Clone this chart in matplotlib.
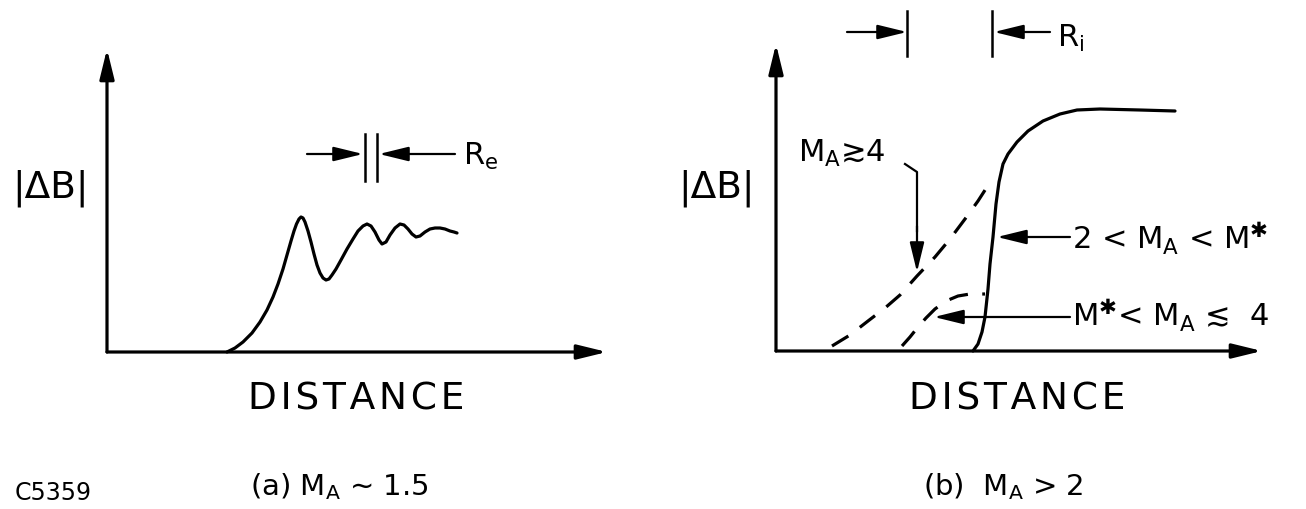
import matplotlib
matplotlib.use("Agg")
import matplotlib.pyplot as plt

plt.rcParams['font.family'] = ['DejaVu Sans']
plt.rcParams['mathtext.default'] = 'regular'

# panel (a): |dB| vs distance, M_A ~ 1.5 (units: px from the axes corner)
a_dist = [120, 128, 136, 145, 153, 160, 166, 171, 176, 180, 184, 187, 189.5, 192, 194, 196,
          198, 201, 204, 207, 210, 213, 216, 219, 222, 225, 229, 234, 240, 246, 251, 256,
          260, 264, 268, 272, 275, 279, 283, 288, 293, 297, 301, 305, 309, 313, 318, 323,
          328, 333, 338, 343, 347, 350]
a_db = [0, 4, 10, 19, 30, 42, 55, 68, 83, 97, 111, 121, 128, 133, 135, 134,
        130, 121, 110, 98, 87, 79, 74, 72, 73, 77, 83, 92, 103, 113, 121, 126,
        128, 126, 120, 112, 108, 110, 117, 124, 128, 127, 123, 118, 115, 116, 120, 123,
        124, 124, 123, 121, 120, 119]

# panel (b): M_A > 2
b_solid_dist = [197, 202, 206, 209, 212, 214, 217, 220, 223, 227, 232, 241, 252, 267, 284, 301, 324, 364, 399]
b_solid_db = [0, 7, 19, 34, 62, 87, 114, 147, 169, 187, 197, 209, 220, 230, 237, 241, 242, 241, 240]
b_dash4_dist = [56, 74, 92, 109, 124, 141, 159, 174, 189, 202, 211]
b_dash4_db = [5, 16, 30, 43, 56, 75, 94, 112, 132, 150, 164]
b_dashm_dist = [126, 134, 142, 150, 159, 170, 182, 194, 209]
b_dashm_db = [5, 14, 24, 33, 42, 50, 55, 57, 57]

LW = 2.3
head = '-|>,head_length=0.9,head_width=0.22'
STAR = '\u2731'
HS = '\u200a'
fig = plt.figure(figsize=(13.06, 5.10), dpi=100)


def arrow(ax, start, end, lw=LW):
    ax.annotate('', xy=end, xytext=start,
                arrowprops=dict(arrowstyle=head, color='black', lw=lw,
                                shrinkA=0, shrinkB=0, mutation_scale=20))


def label(ax, x, y, s, size, ha='left'):
    ax.text(x, y, s, fontsize=size, ha=ha, va='baseline', color='black')


distance = HS.join('DISTANCE')

# ---- panel (a)
ax1 = fig.add_axes([0, 0, 0.5, 1])
ax1.set_xlim(-107, 546)
ax1.set_ylim(-157, 353)
ax1.axis('off')
arrow(ax1, (0, 0), (0, 303))
arrow(ax1, (0, 0), (500, 0))
ax1.plot(a_dist, a_db, color='black', lw=LW, solid_capstyle='round', solid_joinstyle='round')
arrow(ax1, (200, 198), (256, 198), lw=1.6)
arrow(ax1, (348, 198), (272, 198), lw=1.6)
ax1.plot([258, 258], [171, 218], color='black', lw=1.8)
ax1.plot([270, 270], [171, 218], color='black', lw=1.8)
label(ax1, 356, 188, 'R$_e$', 22)
label(ax1, -95, 155, '|ΔB|', 27)
label(ax1, 249, -57, distance, 27, ha='center')
label(ax1, 143, -142, '(a) M$_A$ ∼ 1.5', 21)
label(ax1, -92, -147, 'C5359', 17)

# ---- panel (b)
ax2 = fig.add_axes([0.5, 0, 0.5, 1])
ax2.set_xlim(-123, 530)
ax2.set_ylim(-158, 352)
ax2.axis('off')
arrow(ax2, (0, 0), (0, 307))
arrow(ax2, (0, 0), (486, 0))
ax2.plot(b_solid_dist, b_solid_db, color='black', lw=LW, solid_capstyle='round', solid_joinstyle='round')
ax2.plot(b_dash4_dist, b_dash4_db, color='black', lw=LW, linestyle=(0, (6, 4.5)))
ax2.plot(b_dashm_dist, b_dashm_db, color='black', lw=LW, linestyle=(0, (6, 4.5)))

# R_i markers
arrow(ax2, (71, 319), (131, 319), lw=1.6)
arrow(ax2, (274, 319), (218, 319), lw=1.6)
ax2.plot([131, 131], [295, 340], color='black', lw=1.8)
ax2.plot([216, 216], [295, 340], color='black', lw=1.8)
label(ax2, 281, 305, 'R$_i$', 22)

label(ax2, -98, 154, '|ΔB|', 27)
label(ax2, 22, 190, 'M$_A$≳4', 22)
ax2.plot([129, 141, 141], [187, 179, 120], color='black', lw=1.6)
arrow(ax2, (141, 125), (141, 79), lw=1.6)
label(ax2, 296, 102, '2 < M$_A$ < M$^{' + STAR + '}$', 22)
arrow(ax2, (294, 114), (221, 114), lw=1.6)
label(ax2, 296, 25, 'M$^{' + STAR + '}$< M$_A$ ≲  4', 22)
arrow(ax2, (294, 34), (158, 34), lw=1.6)
label(ax2, 241, -58, distance, 27, ha='center')
label(ax2, 147, -143, '(b)  M$_A$ > 2', 21)

fig.savefig('out.png', dpi=100, facecolor='white')
